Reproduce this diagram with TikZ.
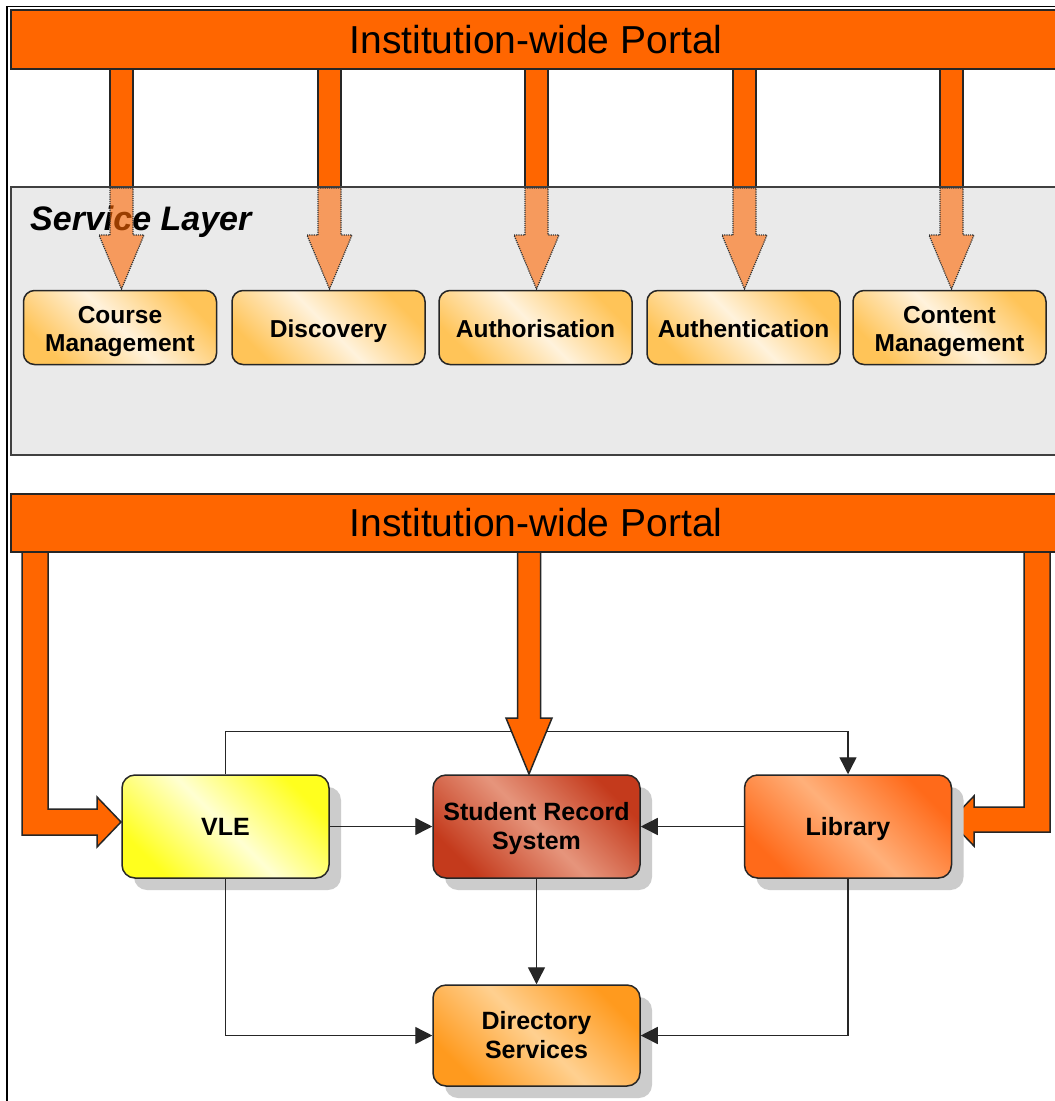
\documentclass[tikz,border=0pt]{standalone}
\usepackage{fontspec}
\setmainfont{Liberation Sans}
\usetikzlibrary{arrows.meta,shadows,calc}
\definecolor{portal}{HTML}{FF6600}
\definecolor{layerbg}{HTML}{EAEAEA}
\definecolor{svcA}{HTML}{FFC458}
\definecolor{svcB}{HTML}{FFF2DC}
\definecolor{vleA}{HTML}{FFFF1E}
\definecolor{vleB}{HTML}{FFFFD2}
\definecolor{srsA}{HTML}{C43A1C}
\definecolor{srsB}{HTML}{E6957C}
\definecolor{libA}{HTML}{FF6A1A}
\definecolor{libB}{HTML}{FFB07A}
\definecolor{dirA}{HTML}{FF9A1E}
\definecolor{dirB}{HTML}{FFD090}
\newcommand\boxtext[2][-4pt]{\raisebox{#1}[\height][\depth]{\begin{tabular}{@{}c@{}}#2\end{tabular}}}
\begin{document}
\begin{tikzpicture}[x=1pt,y=-1pt,
  bar/.style={rectangle, draw=black!85, line width=1.6pt, fill=portal, inner sep=0pt,
    font=\fontsize{39}{44}\selectfont},
  fat/.style={fill=portal, draw=black!85, line width=1.5pt, line join=miter},
  ghost/.style={fill=portal, fill opacity=0.6, draw=black!80, densely dotted, line width=1.2pt},
  sbox/.style={rectangle, rounded corners=11pt, draw=black!85, line width=1.5pt,
    minimum width=193pt, minimum height=74pt, inner sep=2pt,
    font=\bfseries\fontsize{24.5}{28}\selectfont,
    top color=svcA, bottom color=svcA, middle color=svcB, shading angle=-45},
  bbox/.style 2 args={rectangle, rounded corners=13pt, draw=black!85, line width=1.5pt,
    minimum width=207pt, minimum height=103pt, inner sep=2pt,
    font=\bfseries\fontsize{25}{29}\selectfont,
    top color=#1, bottom color=#1, middle color=#2, shading angle=-45,
    drop shadow={shadow xshift=12pt, shadow yshift=-12pt, fill=black!20, opacity=1}},
  conn/.style={draw=black!85, line width=1.4pt, -{Triangle[length=17pt,width=17pt]}}
]
\clip (0,0) rectangle (1055,1101);
\fill[white] (0,0) rectangle (1055,1101);
% outer frame
\draw[black, line width=1.5pt] (1060,6.5) -- (7,6.5) -- (7,1105);

% ---------- top part ----------
\foreach \c in {121.5,329.5,536.5,744.5,951.5}{
  \draw[fat] (\c-11.5,60) rectangle (\c+11.5,187);
}
\node[bar, minimum width=1050pt, minimum height=59pt] (portalA) at (536,39.5) {Institution-wide Portal};

\node[rectangle, draw=black!75, line width=1.5pt, fill=layerbg, minimum width=1059pt,
  minimum height=268pt, inner sep=0pt] (layer) at (540.5,321) {};
\node[anchor=base west, inner sep=0pt, font=\bfseries\itshape\fontsize{34}{40}\selectfont] (sl) at (30,230) {Service Layer};

\foreach \c in {121.5,329.5,536.5,744.5,951.5}{
  \draw[ghost] (\c-11.5,188) -- (\c+11.5,188) -- (\c+11.5,235) -- (\c+22.5,235)
     -- (\c,289) -- (\c-22.5,235) -- (\c-11.5,235) -- cycle;
}

\node[sbox] (cm)   at (120,327.5)   {\boxtext{Course\\Management}};
\node[sbox] (disc) at (328.5,327.5) {\boxtext{Discovery}};
\node[sbox] (autz) at (535.5,327.5) {\boxtext{Authorisation}};
\node[sbox] (autn) at (743.5,327.5) {\boxtext{Authentication}};
\node[sbox] (cont) at (949.5,327.5) {\boxtext{Content\\Management}};

% ---------- bottom part ----------
\draw[fat] (22,540) -- (48,540) -- (48,809) -- (97,809) -- (97,797) -- (121,822)
   -- (97,847) -- (97,835) -- (22,835) -- cycle;
\draw[fat] (1024,540) -- (1050,540) -- (1050,832) -- (974,832) -- (974,846) -- (950,821)
   -- (974,796) -- (974,807) -- (1024,807) -- cycle;

\node[bbox={vleA}{vleB}] (vle) at (225.5,826.5) {\boxtext[-3pt]{VLE}};
\node[bbox={srsA}{srsB}] (srs) at (536.5,826.5) {\boxtext[-3pt]{Student Record\\System}};
\node[bbox={libA}{libB}] (lib) at (848,826.5) {\boxtext[-3pt]{Library}};
\node[bbox={dirA}{dirB}, minimum height=101pt] (dir) at (536.5,1035.5) {\boxtext[-3pt]{Directory\\Services}};

\draw[conn] (vle.north) -- ++(0,-43) -| (lib.north);
\draw[conn] (vle.east) -- (srs.west);
\draw[conn] (lib.west) -- (srs.east);
\draw[conn] (srs.south) -- (dir.north);
\draw[conn] (vle.south) |- (dir.west);
\draw[conn] (lib.south) |- (dir.east);

\draw[fat] (517.5,540) -- (540.5,540) -- (540.5,718) -- (552,718) -- (529,774)
   -- (506,718) -- (517.5,718) -- cycle;

\node[bar, minimum width=1050pt, minimum height=58pt] (portalB) at (536,523) {Institution-wide Portal};
\end{tikzpicture}
\end{document}
